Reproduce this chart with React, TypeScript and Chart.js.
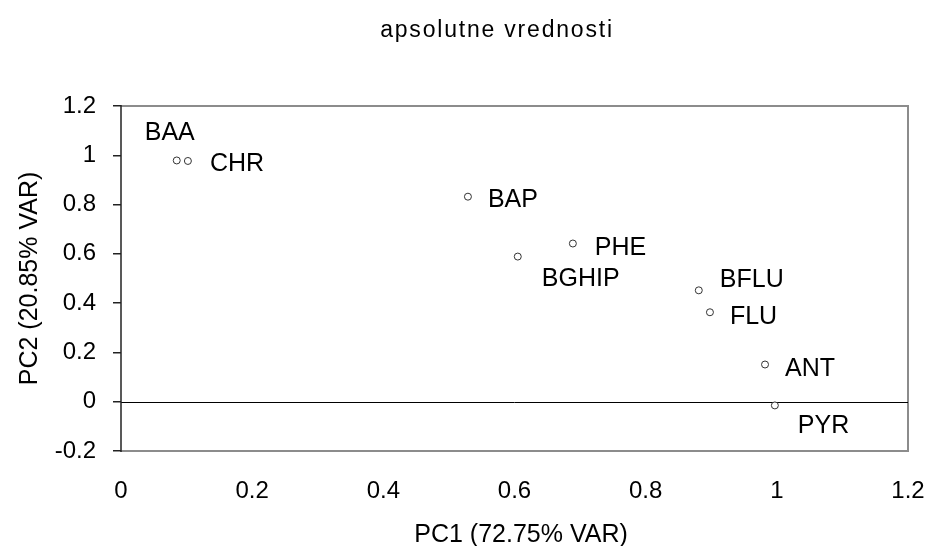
import React, { useEffect, useRef } from "react";
import { Chart, registerables } from "chart.js";

Chart.register(...registerables);

const labels = ["BAA", "CHR", "BAP", "BGHIP", "PHE", "BFLU", "FLU", "ANT", "PYR"];
const pc1 = [0.085, 0.102, 0.529, 0.605, 0.689, 0.881, 0.898, 0.982, 0.997];
const pc2 = [0.979, 0.977, 0.832, 0.589, 0.642, 0.452, 0.363, 0.151, -0.015];
const xTicks = [0, 0.2, 0.4, 0.6, 0.8, 1, 1.2];
const yTicks = [-0.2, 0, 0.2, 0.4, 0.6, 0.8, 1, 1.2];
const title = "apsolutne vrednosti";
const xTitle = "PC1 (72.75% VAR)";
const yTitle = "PC2 (20.85% VAR)";

// label offsets in px (style only): [dx to text left, dy to cap centre]
const labelOffsets: [number, number][] = [
  [-32, -29], [22, 1], [20, 1.5], [24, 20], [22, 2], [21, -12], [20, 3], [20, 2], [23, 19],
];

const FONT = "'Liberation Sans', Arial, sans-serif";

const decor = {
  id: "decor",
  beforeDatasetsDraw(chart: any) {
    const { ctx, chartArea: a, scales } = chart;
    ctx.save();
    ctx.strokeStyle = "#8c8c8c";
    ctx.lineWidth = 2;
    ctx.beginPath();
    ctx.moveTo(a.left, a.top);
    ctx.lineTo(a.right, a.top);
    ctx.lineTo(a.right, a.bottom);
    ctx.lineTo(a.left, a.bottom);
    ctx.stroke();
    const y0 = Math.round(scales.y.getPixelForValue(0)) + 0.5;
    ctx.strokeStyle = "#000";
    ctx.lineWidth = 1;
    ctx.beginPath();
    ctx.moveTo(a.left, y0);
    ctx.lineTo(a.right, y0);
    ctx.stroke();
    ctx.strokeStyle = "#222";
    ctx.lineWidth = 1.5;
    ctx.beginPath();
    ctx.moveTo(a.left, a.top - 1);
    ctx.lineTo(a.left, a.bottom + 1);
    ctx.stroke();
    ctx.restore();
  },
  afterDatasetsDraw(chart: any) {
    const { ctx, chartArea: a, scales } = chart;
    ctx.save();
    ctx.fillStyle = "#000";
    ctx.font = `25px ${FONT}`;
    ctx.textAlign = "left";
    ctx.textBaseline = "alphabetic";
    labels.forEach((l, i) => {
      const px = scales.x.getPixelForValue(pc1[i]);
      const py = scales.y.getPixelForValue(pc2[i]);
      const [dx, dy] = labelOffsets[i];
      ctx.fillText(l, px + dx, py + dy + 9);
    });
    ctx.textAlign = "center";
    ctx.font = `23px ${FONT}`;
    (ctx as any).letterSpacing = "1.8px";
    ctx.fillText(title, 497, 37);
    (ctx as any).letterSpacing = "0px";
    ctx.font = `25px ${FONT}`;
    ctx.fillText(xTitle, 521, 542);
    ctx.translate(37, (a.top + a.bottom) / 2);
    ctx.rotate(-Math.PI / 2);
    ctx.fillText(yTitle, 0, 0);
    ctx.restore();
  },
};

export default function App() {
  const ref = useRef<HTMLCanvasElement>(null);
  useEffect(() => {
    document.body.style.margin = "0";
    const chart = new Chart(ref.current!, {
      type: "scatter",
      data: {
        datasets: [
          {
            data: pc1.map((x, i) => ({ x, y: pc2[i] })),
            pointStyle: "circle",
            pointRadius: 3.5,
            pointBackgroundColor: "#fff",
            pointBorderColor: "#333",
            pointBorderWidth: 1,
          },
        ],
      },
      options: {
        animation: false,
        responsive: false,
        layout: { padding: { top: 106, right: 23, left: 0, bottom: 0 } },
        plugins: { legend: { display: false }, tooltip: { enabled: false } },
        scales: {
          x: {
            type: "linear",
            min: 0,
            max: 1.2,
            afterFit: (s: any) => {
              s.height = 95;
              s.paddingLeft = 0;
              s.paddingRight = 0;
            },
            afterBuildTicks: (s: any) => { s.ticks = xTicks.map((v) => ({ value: v })); },
            grid: { display: false, drawTicks: false },
            border: { display: false },
            ticks: {
              padding: 26,
              color: "#000",
              font: { family: FONT, size: 24 },
              callback: (v: any) => String(v),
            },
          },
          y: {
            type: "linear",
            min: -0.2,
            max: 1.2,
            afterFit: (s: any) => {
              s.width = 121;
              s.paddingTop = 0;
              s.paddingBottom = 0;
            },
            afterBuildTicks: (s: any) => { s.ticks = yTicks.map((v) => ({ value: v })); },
            grid: {
              drawOnChartArea: false,
              drawTicks: true,
              tickLength: 8,
              color: "#222",
              lineWidth: 1.5,
            },
            border: { display: false },
            ticks: {
              padding: 17,
              color: "#000",
              font: { family: FONT, size: 24 },
              callback: (v: any) => String(Math.round(v * 10) / 10),
            },
          },
        },
      },
      plugins: [decor],
    });
    return () => chart.destroy();
  }, []);
  return (
    <div style={{ width: 931, height: 546 }}>
      <canvas ref={ref} width={931} height={546} style={{ width: 931, height: 546, display: "block" }} />
    </div>
  );
}
